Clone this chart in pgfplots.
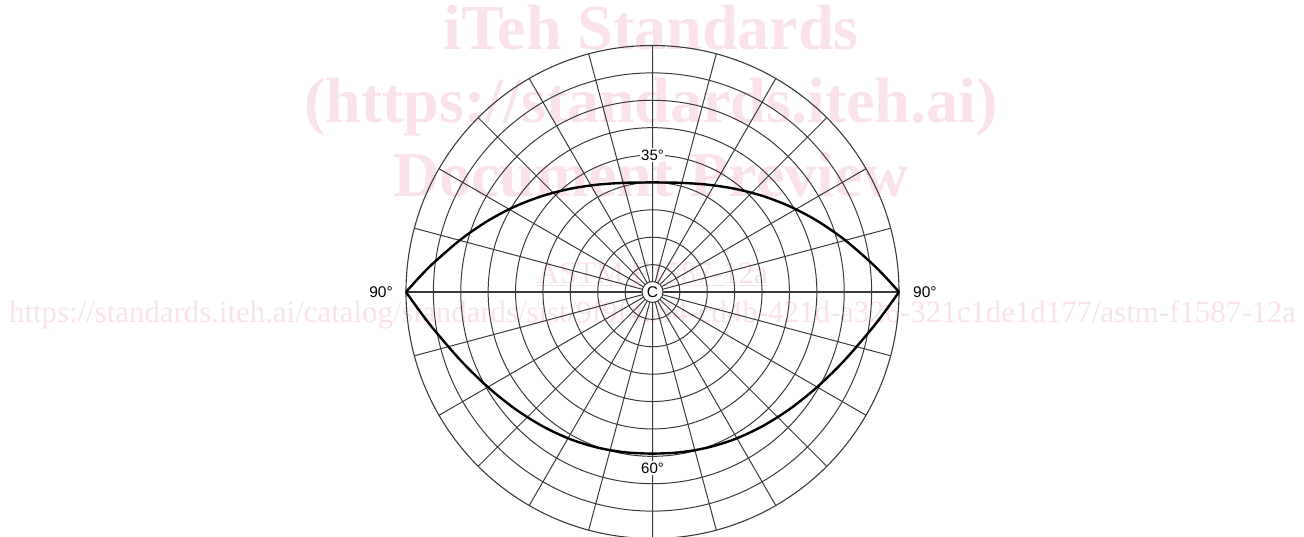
\documentclass[border=0pt]{standalone}
\usepackage{fontspec}
\setmainfont{Liberation Sans}
\newfontfamily\wmserif{Liberation Serif}
\usepackage{pgfplots}
\pgfplotsset{compat=1.18}
\usepgfplotslibrary{polar}
\definecolor{wm}{RGB}{250,226,234}
\definecolor{gridc}{RGB}{58,58,58}
\begin{document}
\begin{tikzpicture}[x=1pt,y=1pt]
\useasboundingbox (0,0) rectangle (1304,537);
% watermark
\node[anchor=base, text=wm, font=\wmserif\bfseries\fontsize{64}{64}\selectfont, inner sep=0] at (651,487) {iTeh Standards};
\node[anchor=base, text=wm, font=\wmserif\bfseries\fontsize{64}{64}\selectfont, inner sep=0] at (651,414) {(https://standards.iteh.ai)};
\node[anchor=base, text=wm, font=\wmserif\bfseries\fontsize{64}{64}\selectfont, inner sep=0] at (651,340) {Document Preview};
\node[anchor=base, text=wm, font=\wmserif\fontsize{31.4}{31.4}\selectfont, inner sep=0] at (652.5,253) {\underline{ASTM F1587-12a}};
\node[anchor=base, text=wm, font=\wmserif\fontsize{30.85}{30.85}\selectfont, inner sep=0] at (652.5,214) {https://standards.iteh.ai/catalog/standards/sist/9f9f4a84-cd4b-421d-a326-321c1de1d177/astm-f1587-12a};
\begin{polaraxis}[
  at={(652.5pt,245pt)}, anchor=origin,
  scale only axis, width=493pt, height=493pt,
  xmin=0, xmax=360, ymin=0, ymax=9,
  xtick={0,15,...,345}, ytick={1,...,8},
  xticklabels={}, yticklabels={},
  major tick length=0pt,
  grid=major,
  major grid style={gridc, line width=1.0pt},
  axis line style={gridc, line width=1.1pt},
  clip=false,
]
\addplot[gridc, line width=1.6pt] coordinates {(180,9) (0,9)};
\addplot[black, line width=2.4pt, smooth, data cs=cart] coordinates {
(-9,0) (-8.5,0.552) (-8,1.055) (-7,1.919) (-6,2.606) (-5,3.132) (-4,3.514) (-3,3.770) (-2,3.920) (-1,3.987) (0,4)
(1,3.987) (2,3.920) (3,3.770) (4,3.514) (5,3.132) (6,2.606) (7,1.919) (8,1.055) (8.5,0.552) (9,0)};
\addplot[black, line width=2.4pt, smooth, data cs=cart] coordinates {
(-9,0) (-8.5,-0.697) (-8,-1.347) (-7,-2.506) (-6,-3.482) (-5,-4.281) (-4,-4.909) (-3,-5.374) (-2,-5.684) (-1,-5.853) (0,-5.9)
(1,-5.853) (2,-5.684) (3,-5.374) (4,-4.909) (5,-4.281) (6,-3.482) (7,-2.506) (8,-1.347) (8.5,-0.697) (9,0)};
\node[circle, draw=gridc, fill=white, line width=1.0pt, minimum size=21pt, inner sep=0pt, font=\fontsize{15.5}{15.5}\selectfont] at (axis cs:0,0) {C};
\node[fill=white, inner sep=1.5pt, font=\fontsize{15}{15}\selectfont] at (axis cs:90,5) {35°};
\node[fill=white, inner sep=1.5pt, font=\fontsize{15}{15}\selectfont] at (axis cs:270,6.42) {60°};
\node[anchor=east, inner sep=0pt, xshift=-13pt, font=\fontsize{15.5}{15.5}\selectfont] at (axis cs:180,9) {90°};
\node[anchor=west, inner sep=0pt, xshift=14pt, font=\fontsize{15.5}{15.5}\selectfont] at (axis cs:0,9) {90°};
\end{polaraxis}
\end{tikzpicture}
\end{document}
